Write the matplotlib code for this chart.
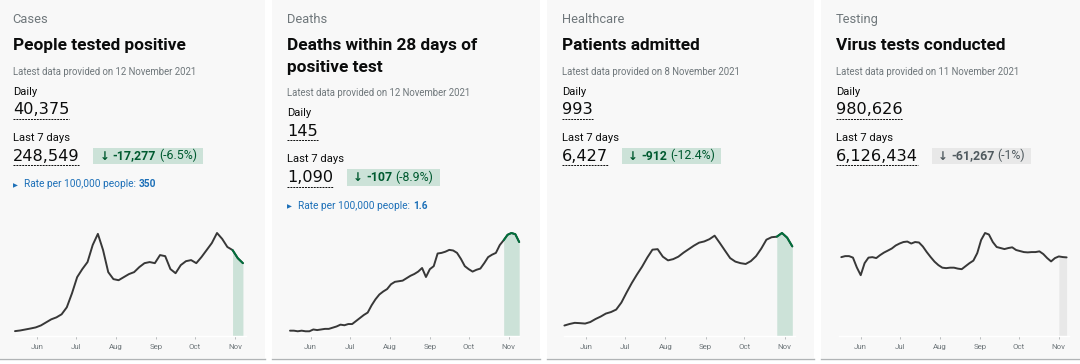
import numpy as np
import pandas as pd
import matplotlib
matplotlib.use('Agg')
import matplotlib.pyplot as plt
from matplotlib.patches import Rectangle

FONT = ['Roboto', 'DejaVu Sans']
NUM_FONT = ['DejaVu Sans']
plt.rcParams['font.family'] = FONT

# ---- data (7-day averages) ----
cases_start = '2021-05-15'   # every 4 days
cases_values = [2000, 2300, 2750, 3200, 3700, 4600, 6000, 7400, 8300, 9700,
                12900, 19300, 26700, 30400, 33600, 41400, 46500, 39100, 29000, 25800,
                25300, 26700, 28100, 29000, 31300, 33100, 33600, 33100, 36800, 36300,
                30400, 28500, 32200, 34000, 34500, 33100, 35900, 39100, 42300, 46900,
                44200, 40500, 39100, 35400, 33100]
cases_hl = '2021-10-30'

deaths_start = '2021-05-16'  # every 3 days
deaths_values = [8, 8, 7, 8, 7, 7, 10, 9, 10, 11, 11, 13, 15, 18, 17, 19, 19, 24, 29, 34,
                 38, 50, 60, 68, 73, 77, 85, 89, 90, 91, 95, 99, 102, 106, 112, 97, 110, 115,
                 136, 137, 139, 142, 141, 137, 127, 115, 110, 106, 109, 111, 120, 130, 134,
                 137, 150, 158, 167, 170, 168, 155]
deaths_hl = '2021-10-28'

admissions_start = '2021-05-15'  # every 4 days
admissions_values = [97, 112, 123, 120, 116, 131, 160, 184, 213, 228, 252, 320, 417, 509,
                     592, 669, 757, 834, 839, 766, 730, 742, 766, 805, 839, 873, 902, 914,
                     936, 970, 899, 825, 752, 718, 703, 695, 723, 771, 844, 931, 955, 960,
                     996, 951, 866]
admissions_hl = '2021-10-26'

tests_start = '2021-05-17'  # every 3 days
tests_values = [990, 1003, 1003, 984, 860, 762, 914, 984, 990, 978, 1016, 1048, 1073, 1099,
                1137, 1162, 1181, 1187, 1162, 1181, 1175, 1124, 1054, 991, 933, 889, 857,
                851, 857, 857, 845, 838, 876, 914, 946, 1041, 1207, 1295, 1276, 1181, 1118,
                1105, 1092, 1105, 1114, 1080, 1067, 1054, 1050, 1054, 1054, 1063, 1029, 978,
                936, 978, 999, 991, 987]
tests_values = [v * 1000 for v in tests_values]
tests_hl = '2021-10-31'

month_ticks = ['2021-06-01', '2021-07-01', '2021-08-01', '2021-09-01', '2021-10-01', '2021-11-01']
month_labels = ['Jun', 'Jul', 'Aug', 'Sep', 'Oct', 'Nov']

DARK = '#0b0c0c'
GREY = '#6f777b'
GREEN = '#00703c'
BLUE = '#1d70b8'

fig = plt.figure(figsize=(10.8, 3.64), dpi=100)
fig.patch.set_facecolor('white')
ax0 = fig.add_axes([0, 0, 1, 1])
ax0.set_xlim(0, 1080)
ax0.set_ylim(364, 0)
ax0.axis('off')
r = fig.canvas.get_renderer()

cards = [
    dict(x0=0, x1=265, cat='Cases', title=['People tested positive'],
         latest='Latest data provided on 12 November 2021', daily='40,375',
         week='248,549', change='-17,277', pct='(-6.5%)', rate='350',
         start=cases_start, step='4D', values=cases_values, hl=cases_hl),
    dict(x0=272, x1=540, cat='Deaths', title=['Deaths within 28 days of', 'positive test'],
         latest='Latest data provided on 12 November 2021', daily='145',
         week='1,090', change='-107', pct='(-8.9%)', rate='1.6',
         start=deaths_start, step='3D', values=deaths_values, hl=deaths_hl),
    dict(x0=547, x1=814, cat='Healthcare', title=['Patients admitted'],
         latest='Latest data provided on 8 November 2021', daily='993',
         week='6,427', change='-912', pct='(-12.4%)', rate=None,
         start=admissions_start, step='4D', values=admissions_values, hl=admissions_hl),
    dict(x0=821, x1=1080, cat='Testing', title=['Virus tests conducted'],
         latest='Latest data provided on 11 November 2021', daily='980,626',
         week='6,126,434', change='-61,267', pct='(-1%)', rate=None,
         start=tests_start, step='3D', values=tests_values, hl=tests_hl, neutral=True),
]
chart_left = [15, 288.7, 564.4, 838.7]


def text_w(t):
    return t.get_window_extent(renderer=r).width


for i, c in enumerate(cards):
    ax0.add_patch(Rectangle((c['x0'], 0), c['x1'] - c['x0'], 358, color='#f8f8f8', lw=0, zorder=0))
    ax0.plot([c['x0'], c['x1']], [358.5, 358.5], color='#b1b4b6', lw=1)
    tx = c['x0'] + 15 if i > 0 else 12.7
    ax0.text(tx, 23.3, c['cat'], fontsize=9.3, color=GREY, va='baseline')
    for k, line in enumerate(c['title']):
        ax0.text(tx, 50 + 21.7 * k, line, fontsize=12.4, fontweight='bold', color=DARK,
                 va='baseline')
    off = 21.7 * (len(c['title']) - 1)
    ax0.text(tx, 74.7 + off, c['latest'], fontsize=6.95, color=GREY, va='baseline')
    ax0.text(tx, 94.7 + off, 'Daily', fontsize=8.1, color=DARK, va='baseline')
    t = ax0.text(tx, 114 + off, c['daily'], fontsize=11.6, color=DARK, va='baseline',
                 family=NUM_FONT)
    w = text_w(t)
    ax0.plot([tx, tx + w], [118.5 + off, 118.5 + off], color=DARK, lw=0.7, ls=(0, (2, 1)))
    ax0.text(tx, 140.7 + off, 'Last 7 days', fontsize=8.1, color=DARK, va='baseline')
    t = ax0.text(tx, 160.7 + off, c['week'], fontsize=11.6, color=DARK, va='baseline',
                 family=NUM_FONT)
    w = text_w(t)
    ax0.plot([tx, tx + w], [165 + off, 165 + off], color=DARK, lw=0.7, ls=(0, (2, 1)))

    # change badge
    neutral = c.get('neutral', False)
    bcol = '#505a5f' if neutral else '#005a30'
    bg = '#e8e8e8' if neutral else '#cce2d8'
    bx = tx + w + 14
    by = 159.5 + off
    a = ax0.text(bx + 6, by, '\u2193', fontsize=8.5, color=bcol, va='baseline',
                 fontweight='bold', family=['DejaVu Sans'], zorder=3)
    xx = bx + 6 + text_w(a) + 3
    b = ax0.text(xx, by, c['change'], fontsize=8.9, color=bcol, va='baseline',
                 fontweight='bold', zorder=3)
    xx += text_w(b) + 3.5
    p = ax0.text(xx, by, c['pct'], fontsize=8.9, color=bcol, va='baseline', zorder=3)
    xx += text_w(p) + 6
    ax0.add_patch(Rectangle((bx, by - 11.8), xx - bx, 16.3, color=bg, lw=0, zorder=1))

    if c['rate'] is not None:
        ry = 187.3 + off
        ax0.text(tx, ry - 0.5, '\u25B6', fontsize=4.6, color=BLUE, va='baseline',
                 family=['DejaVu Sans'])
        t = ax0.text(tx + 11.3, ry, 'Rate per 100,000 people: ', fontsize=7.3, color=BLUE,
                     va='baseline')
        ax0.text(tx + 11.3 + text_w(t), ry, c['rate'], fontsize=7.3, color=BLUE,
                 va='baseline', fontweight='bold')

    # chart
    dates = pd.date_range(c['start'], periods=len(c['values']), freq=c['step'])
    vals = np.array(c['values'], dtype=float)
    ax = fig.add_axes([chart_left[i] / 1080, (364 - 335.5) / 364, 230.5 / 1080, 102.5 / 364])
    ax.set_facecolor('none')
    ax.set_xlim(pd.Timestamp('2021-05-15'), pd.Timestamp('2021-11-09'))
    ax.set_ylim(0, vals.max())
    m = dates >= pd.Timestamp(c['hl'])
    fill_col = '#e8e8e8' if neutral else '#cce2d8'
    ax.fill_between(dates[m], 0, vals[m], color=fill_col, lw=0, zorder=1)
    ax.plot(dates, vals, color='#383838', lw=1.4, zorder=2, clip_on=False,
            solid_capstyle='round', solid_joinstyle='round')
    if not neutral:
        ax.plot(dates[m], vals[m], color=GREEN, lw=1.4, zorder=3, clip_on=False,
                solid_capstyle='round', solid_joinstyle='round')
    for s in ['top', 'left', 'right']:
        ax.spines[s].set_visible(False)
    ax.spines['bottom'].set_color('#ffffff')
    ax.spines['bottom'].set_linewidth(1)
    ax.set_yticks([])
    ax.set_xticks(pd.to_datetime(month_ticks))
    ax.set_xticklabels(month_labels)
    ax.tick_params(axis='x', length=2, width=0.6, color='#b1b4b6', labelsize=5.7,
                   labelcolor=GREY, pad=4)

fig.savefig('out.png', dpi=100, facecolor='white')
